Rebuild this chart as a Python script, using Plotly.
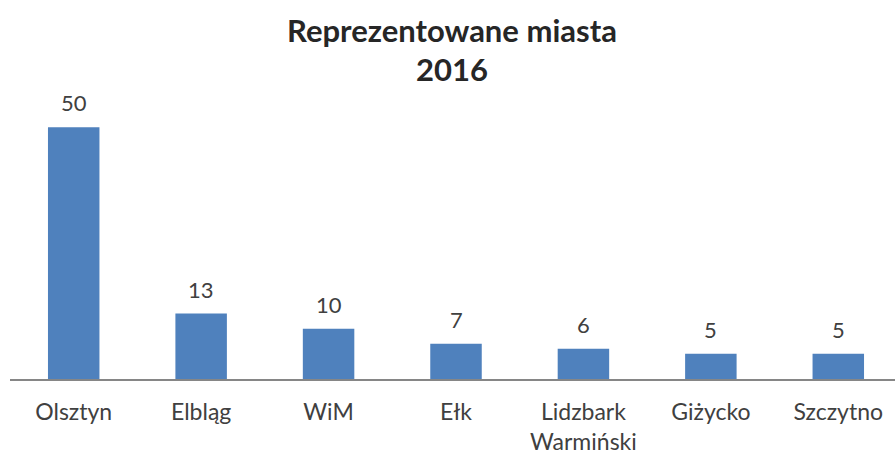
import plotly.graph_objects as go

categories = ["Olsztyn", "Elbląg", "WiM", "Ełk", "Lidzbark<br>Warmiński", "Giżycko", "Szczytno"]
values = [50, 13, 10, 7, 6, 5, 5]
title_lines = ["Reprezentowane miasta", "2016"]

FONT = "Lato, 'Open Sans', sans-serif"

fig = go.Figure(go.Bar(
    x=categories,
    y=values,
    marker=dict(color="#4F81BD", line=dict(width=0)),
    cliponaxis=False,
))

# data labels above bars
for c, v in zip(categories, values):
    fig.add_annotation(
        x=c, y=v, xref="x", yref="y",
        text=str(v), showarrow=False,
        yanchor="bottom", yshift=9,
        font=dict(family=FONT, size=22, color="#404040"),
    )

# title (two lines)
title_centers_px = [30, 69]
for line, py in zip(title_lines, title_centers_px):
    fig.add_annotation(
        x=(452 - 10) / 885, xref="paper",
        y=(379 - py) / 302, yref="paper",
        text="<b>" + line + "</b>", showarrow=False,
        xanchor="center", yanchor="middle",
        font=dict(family=FONT, size=31, color="#262626"),
    )

fig.update_layout(
    width=895,
    height=456,
    margin=dict(l=10, r=0, t=77, b=77),
    paper_bgcolor="white",
    plot_bgcolor="white",
    bargap=0.596,
    showlegend=False,
    xaxis=dict(
        range=[-0.5, 6.445],
        showline=True, linecolor="#868686", linewidth=2,
        showgrid=False, zeroline=False,
        ticks="outside", ticklen=11, tickcolor="rgba(0,0,0,0)",
        tickfont=dict(family=FONT, size=23, color="#404040"),
    ),
    yaxis=dict(
        range=[0, 60],
        visible=False,
        showgrid=False, zeroline=False,
    ),
)

fig.write_html("out.html")
